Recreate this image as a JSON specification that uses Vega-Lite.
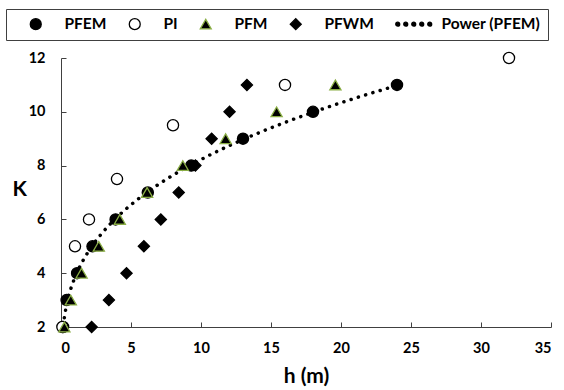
{
  "$schema": "https://vega.github.io/schema/vega-lite/v6.json",
  "width": 490,
  "height": 269,
  "autosize": "none",
  "padding": {"left": 61, "top": 58, "right": 13, "bottom": 63},
  "background": "white",
  "config": {
    "view": {"stroke": null},
    "font": "Lato",
    "axis": {"grid": false, "domainColor": "#404040", "tickColor": "#404040", "labelFont": "Lato", "labelFontWeight": "bold", "labelFontSize": 14.5, "labelColor": "#000", "titleFont": "Lato", "titleFontWeight": "bold", "titleFontSize": 21, "titleColor": "#000"}
  },
  "data": {
    "values": [
      {"series": "PFEM", "h": 0.15, "K": 2},
      {"series": "PFEM", "h": 0.4, "K": 3},
      {"series": "PFEM", "h": 1.15, "K": 4},
      {"series": "PFEM", "h": 2.25, "K": 5},
      {"series": "PFEM", "h": 3.9, "K": 6},
      {"series": "PFEM", "h": 6.2, "K": 7},
      {"series": "PFEM", "h": 9.3, "K": 8},
      {"series": "PFEM", "h": 13, "K": 9},
      {"series": "PFEM", "h": 18, "K": 10},
      {"series": "PFEM", "h": 24, "K": 11},
      {"series": "PI", "h": 0.1, "K": 2},
      {"series": "PI", "h": 1.0, "K": 5},
      {"series": "PI", "h": 2.0, "K": 6},
      {"series": "PI", "h": 4.0, "K": 7.5},
      {"series": "PI", "h": 8.0, "K": 9.5},
      {"series": "PI", "h": 16, "K": 11},
      {"series": "PI", "h": 32, "K": 12},
      {"series": "PFM", "h": 0.24, "K": 2},
      {"series": "PFM", "h": 0.7, "K": 3},
      {"series": "PFM", "h": 1.47, "K": 4},
      {"series": "PFM", "h": 2.7, "K": 5},
      {"series": "PFM", "h": 4.2, "K": 6},
      {"series": "PFM", "h": 6.15, "K": 7},
      {"series": "PFM", "h": 8.7, "K": 8},
      {"series": "PFM", "h": 11.76, "K": 9},
      {"series": "PFM", "h": 15.4, "K": 10},
      {"series": "PFM", "h": 19.6, "K": 11},
      {"series": "PFWM", "h": 2.19, "K": 2},
      {"series": "PFWM", "h": 3.42, "K": 3},
      {"series": "PFWM", "h": 4.68, "K": 4},
      {"series": "PFWM", "h": 5.92, "K": 5},
      {"series": "PFWM", "h": 7.13, "K": 6},
      {"series": "PFWM", "h": 8.41, "K": 7},
      {"series": "PFWM", "h": 9.6, "K": 8},
      {"series": "PFWM", "h": 10.76, "K": 9},
      {"series": "PFWM", "h": 12.04, "K": 10},
      {"series": "PFWM", "h": 13.28, "K": 11}
    ]
  },
  "layer": [
    {
      "transform": [
        {"filter": "datum.series === 'PFEM'"},
        {"regression": "K", "on": "h", "method": "pow"}
      ],
      "mark": {"type": "line", "color": "#000", "strokeWidth": 3.5, "strokeDash": [0.1, 7.5], "strokeCap": "round"},
      "encoding": {
        "x": {"field": "h", "type": "quantitative"},
        "y": {"field": "K", "type": "quantitative"}
      }
    },
    {
      "mark": {"type": "point", "filled": false, "opacity": 1, "strokeWidth": 1.3, "size": 125},
      "encoding": {
        "x": {"field": "h", "type": "quantitative", "scale": {"domain": [0, 35], "nice": false, "zero": false},
          "axis": {"values": [0, 5, 10, 15, 20, 25, 30, 35], "tickSize": -5, "labelPadding": 19, "title": "h (m)", "titlePadding": 11}},
        "y": {"field": "K", "type": "quantitative", "scale": {"domain": [2, 12], "nice": false, "zero": false},
          "axis": {"values": [2, 3, 4, 5, 6, 7, 8, 9, 10, 11, 12], "labelExpr": "datum.value % 2 === 0 ? datum.label : ''", "tickSize": -5, "labelPadding": 21, "title": "K", "titleAngle": 0, "titleX": -49, "titleY": 141, "titleAlign": "left"}},
        "shape": {"field": "series", "type": "nominal",
          "scale": {"domain": ["PFEM", "PI", "PFM", "PFWM", "Power (PFEM)"],
            "range": ["circle", "circle", "triangle-up", "diamond", "M-3.10,0a0.36,0.36 0 1,0 0.72,0a0.36,0.36 0 1,0 -0.72,0M-1.64,0a0.36,0.36 0 1,0 0.72,0a0.36,0.36 0 1,0 -0.72,0M-0.18,0a0.36,0.36 0 1,0 0.72,0a0.36,0.36 0 1,0 -0.72,0M1.28,0a0.36,0.36 0 1,0 0.72,0a0.36,0.36 0 1,0 -0.72,0M2.74,0a0.36,0.36 0 1,0 0.72,0a0.36,0.36 0 1,0 -0.72,0"]},
          "legend": {"orient": "none", "legendX": -55, "legendY": -49, "direction": "horizontal", "columns": 5,
            "title": " ", "titleOrient": "left", "titleFontSize": 1, "titlePadding": 15,
            "strokeColor": "#404040", "padding": 7, "labelFont": "Lato", "labelFontWeight": "bold", "labelFontSize": 15.5, "labelColor": "#000",
            "symbolSize": 120, "labelOffset": 21, "columnPadding": 19, "symbolStrokeWidth": 1.3}},
        "fill": {"field": "series", "type": "nominal",
          "scale": {"domain": ["PFEM", "PI", "PFM", "PFWM", "Power (PFEM)"], "range": ["#000", "#fff", "#000", "#000", "#000"]}},
        "stroke": {"field": "series", "type": "nominal",
          "scale": {"domain": ["PFEM", "PI", "PFM", "PFWM", "Power (PFEM)"], "range": ["#000", "#000", "#8AAE45", "#000", "#000"]}}
      }
    }
  ]
}
